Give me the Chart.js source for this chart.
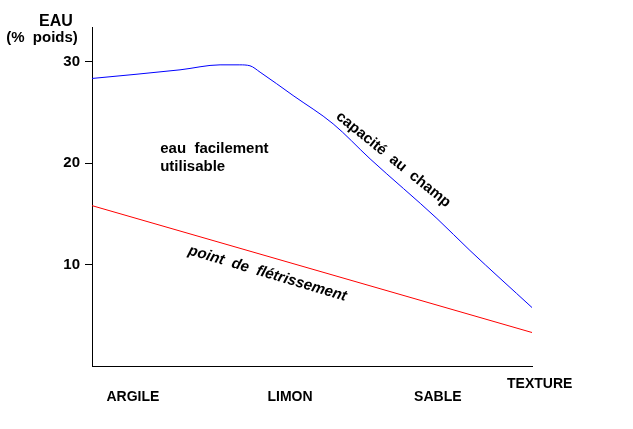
<!DOCTYPE html>
<html>
<head>
<meta charset="utf-8">
<script src="https://cdn.jsdelivr.net/npm/chart.js@4/dist/chart.umd.min.js"></script>
<style>
  body { margin: 0; background: #fff; }
  #wrap { width: 633px; height: 429px; }
</style>
</head>
<body>
<div id="wrap"><canvas id="c" width="633" height="429"></canvas></div>
<script>
'use strict';

// textures along the x axis (positions in % of the axis)
const categories  = ['ARGILE', 'LIMON', 'SABLE'];
const categoryPos = [9.3, 45, 78.6];

// capacité au champ (blue)
const xCapacite = [0, 20, 29.1, 33.6, 35.9, 38.2, 45.7, 54.8, 63.2, 78.4, 85.9, 100];
const yCapacite = [28.33, 29.18, 29.67, 29.67, 29.58, 28.95, 26.65, 23.86, 20.41, 14.53, 11.38, 5.76];

// point de flétrissement (red)
const xFletri = [0, 100];
const yFletri = [15.8, 3.3];

const yTicks = [10, 20, 30];

const FONT = '"Liberation Sans", Arial, sans-serif';

// text annotations: [text, x, y, angle(deg), font, baseline]
const notes = [
  ['eau  facilement',          15.5, 21.0,  0, 'bold 15px ' + FONT, 'alphabetic'],
  ['utilisable',               15.5, 19.26, 0, 'bold 15px ' + FONT, 'alphabetic'],
  ['capacité  au  champ',      55.9, 24.75, 39, 'bold 15px ' + FONT, 'middle'],
  ['point  de  flétrissement', 22.0, 11.4, 16.5, 'italic bold 15px ' + FONT, 'middle'],
];

const textPlugin = {
  id: 'texts',
  afterDraw(chart) {
    const ctx = chart.ctx;
    const xs = chart.scales.x, ys = chart.scales.y;
    ctx.save();
    ctx.fillStyle = '#000';

    ctx.font = 'bold 16px ' + FONT;
    ctx.textAlign = 'center';
    ctx.textBaseline = 'alphabetic';
    ctx.fillText('EAU', 56, 26);
    ctx.font = 'bold 15px ' + FONT;
    ctx.fillText('(%  poids)', 42, 42);

    ctx.font = 'bold 14px ' + FONT;
    ctx.textAlign = 'left';
    ctx.fillText('TEXTURE', 507, 388);

    notes.forEach(([t, x, y, a, f, b]) => {
      ctx.save();
      ctx.translate(xs.getPixelForValue(x), ys.getPixelForValue(y));
      ctx.rotate(a * Math.PI / 180);
      ctx.font = f;
      ctx.textAlign = 'left';
      ctx.textBaseline = b;
      ctx.fillText(t, 0, 0);
      ctx.restore();
    });
    ctx.restore();
  }
};

new Chart(document.getElementById('c'), {
  type: 'line',
  data: {
    datasets: [
      {
        label: 'capacité au champ',
        data: xCapacite.map((x, i) => ({ x, y: yCapacite[i] })),
        borderColor: '#0000ff',
        borderWidth: 1,
        pointRadius: 0,
        cubicInterpolationMode: 'monotone',
      },
      {
        label: 'point de flétrissement',
        data: xFletri.map((x, i) => ({ x, y: yFletri[i] })),
        borderColor: '#ff0000',
        borderWidth: 1,
        pointRadius: 0,
      }
    ]
  },
  options: {
    responsive: false,
    animation: false,
    devicePixelRatio: 1,
    layout: { padding: { top: 27, right: 101, left: 0, bottom: 0 } },
    plugins: { legend: { display: false }, tooltip: { enabled: false } },
    scales: {
      x: {
        type: 'linear',
        min: 0, max: 100,
        afterBuildTicks: s => { s.ticks = categoryPos.map(v => ({ value: v })); },
        afterFit: s => { s.height = 63; },
        grid: { display: false, drawTicks: false },
        border: { display: true, color: '#000', width: 1 },
        ticks: {
          autoSkip: false, maxRotation: 0, padding: 23,
          color: '#000', font: { family: FONT, size: 14, weight: 'bold' },
          callback: (v, i) => categories[i],
        }
      },
      y: {
        min: 0, max: 33.4,
        afterBuildTicks: s => { s.ticks = yTicks.map(v => ({ value: v })); },
        afterFit: s => { s.width = 92; },
        grid: { drawOnChartArea: false, drawTicks: true, tickLength: 7, color: '#000' },
        border: { display: true, color: '#000', width: 1 },
        ticks: {
          padding: 5, color: '#000',
          font: { family: FONT, size: 15, weight: 'bold' },
        }
      }
    }
  },
  plugins: [textPlugin]
});
</script>
</body>
</html>
